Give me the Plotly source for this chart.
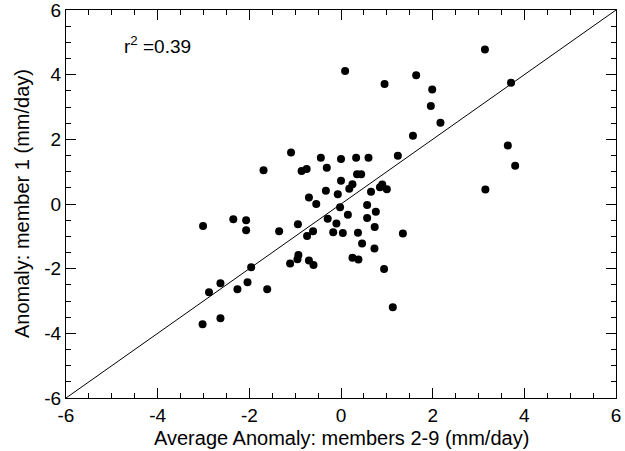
import plotly.graph_objects as go

avg_anomaly = [-3.01, -3.02, -2.63, -2.88, -2.63, -2.26, -2.04, -1.96, -1.61, -2.35,
               -2.07, -2.07, -1.35, -1.69, -1.09, -1.11, -0.93, -0.95, -0.70, -0.60,
               -0.94, -0.86, -0.75, -0.44, -0.31, 0.00, 0.33, 0.60, 1.24, 0.00,
               0.35, 0.44, 0.25, 0.18, -0.33, -0.07, -0.70, -0.54, -0.02, 0.15,
               -0.29, -0.10, -0.17, 0.04, -0.61, -0.74, 0.37, 0.46, 0.73, 0.94,
               0.25, 0.38, 0.655, 0.85, 0.90, 1.00, 0.57, 0.76, 0.57, 0.735,
               1.35, 3.14, 1.64, 0.95, 1.99, 1.96, 3.71, 2.17, 1.57, 3.64,
               3.80, 3.15, 0.09, 1.13]
member1 = [-0.68, -3.72, -3.53, -2.73, -2.45, -2.64, -2.42, -1.96, -2.64, -0.47,
           -0.50, -0.81, -0.84, 1.04, 1.59, -1.84, -1.58, -1.71, -1.75, -1.89,
           -0.63, 1.02, 1.08, 1.43, 1.12, 1.39, 1.43, 1.43, 1.49, 0.72,
           0.92, 0.92, 0.61, 0.47, 0.41, 0.30, 0.20, 0.00, -0.10, -0.33,
           -0.46, -0.60, -0.87, -0.90, -0.84, -0.99, -0.89, -1.22, -1.38, -2.01,
           -1.66, -1.72, 0.38, 0.52, 0.60, 0.46, -0.03, -0.24, -0.43, -0.71,
           -0.91, 4.78, 3.98, 3.71, 3.54, 3.03, 3.75, 2.51, 2.11, 1.81,
           1.18, 0.45, 4.11, -3.19]

one_to_one = [-6, 6]
tick_vals = [-6, -4, -2, 0, 2, 4, 6]
tick_text = ["-6", "-4", "-2", "0", "2", "4", "6"]
r2_text = "r<sup>2</sup> =0.39"
x_title = "Average Anomaly: members 2-9 (mm/day)"
y_title = "Anomaly: member 1 (mm/day)"

FONT = "Liberation Sans, Arial, Helvetica, sans-serif"

fig = go.Figure()
fig.add_trace(go.Scatter(x=one_to_one, y=one_to_one, mode="lines",
                         line=dict(color="black", width=1), hoverinfo="skip"))
fig.add_trace(go.Scatter(x=avg_anomaly, y=member1, mode="markers",
                         marker=dict(color="black", size=8, line=dict(width=0))))

axis_common = dict(
    range=[-6, 6], showgrid=False, zeroline=False, automargin=False,
    showline=True, linecolor="black", linewidth=1, mirror="ticks",
    ticks="inside", ticklen=10, tickwidth=1, tickcolor="black",
    tickvals=tick_vals, ticktext=tick_text, ticklabeloverflow="allow",
    tickfont=dict(family=FONT, size=19, color="black"),
    minor=dict(dtick=0.5, ticks="inside", ticklen=5, tickwidth=1, tickcolor="black"),
)

fig.update_layout(
    width=625, height=451,
    margin=dict(l=66, r=9, t=10, b=53),
    paper_bgcolor="white", plot_bgcolor="white",
    showlegend=False,
    font=dict(family=FONT, color="black"),
    xaxis=dict(**axis_common),
    yaxis=dict(**axis_common),
    annotations=[
        dict(x=-4.78, y=4.92, xref="x", yref="y", text=r2_text,
             showarrow=False, xanchor="left", yanchor="middle",
             font=dict(family=FONT, size=19, color="black")),
        dict(x=0.5, y=-0.103, xref="paper", yref="paper", text=x_title,
             showarrow=False, xanchor="center", yanchor="middle",
             font=dict(family=FONT, size=20, color="black")),
        dict(x=-0.08, y=0.5, xref="paper", yref="paper", text=y_title,
             showarrow=False, xanchor="center", yanchor="middle", textangle=-90,
             font=dict(family=FONT, size=20, color="black")),
    ],
)

fig.write_html("out.html", config={"displayModeBar": False},
               post_script="document.body.style.margin='0';document.body.style.overflow='hidden';")
